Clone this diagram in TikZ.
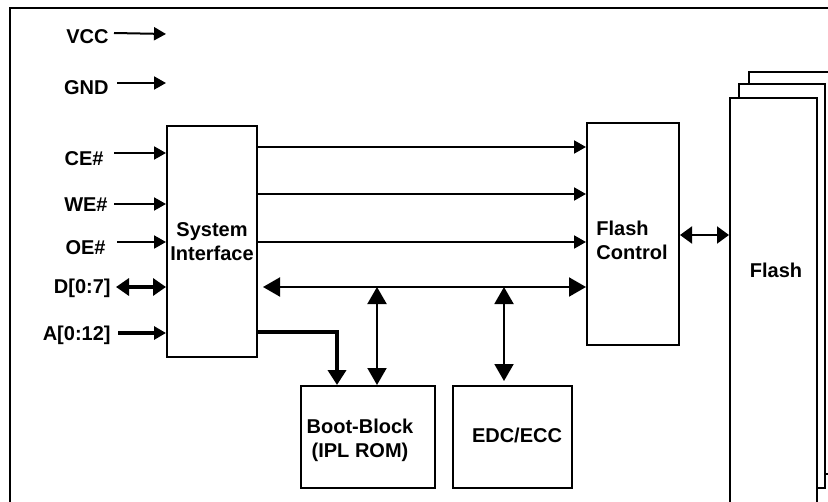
\documentclass[tikz,border=0pt]{standalone}
\usepackage{fontspec}
\setmainfont{Liberation Sans}
\usetikzlibrary{arrows.meta}
\begin{document}
\begin{tikzpicture}[x=0.5pt,y=-0.5pt,
  every node/.style={font=\fontsize{10}{12}\selectfont\bfseries, inner sep=0pt},
  box/.style={draw, line width=1pt, fill=white},
  lbl/.style={anchor=east},
  arr/.style={line width=1pt, -{Triangle[length=6pt,width=6.5pt]}},
  tharr/.style={line width=2pt, -{Triangle[length=6pt,width=6.5pt]}},
  thdbl/.style={line width=2pt, {Triangle[length=6.5pt,width=8.5pt]}-{Triangle[length=6.5pt,width=8.5pt]}},
  dbl/.style={line width=1pt, {Triangle[length=6pt,width=8.5pt]}-{Triangle[length=6pt,width=8.5pt]}},
  busarr/.style={line width=1pt, {Triangle[length=8.5pt,width=9.5pt]}-{Triangle[length=8.5pt,width=9.5pt]}},
  dnarr/.style={line width=2pt, -{Triangle[length=7.5pt,width=9pt]}}
]
\useasboundingbox (0,0) rectangle (828,502);
\clip (0,0) rectangle (828,502);
\fill[white] (0,0) rectangle (828,502);
% outer frame
\draw[line width=1pt] (10,8) rectangle (900,600);

% blocks
\node[box, minimum width=45pt, minimum height=115.5pt, align=center] (si) at (212,241.5) {System\\Interface};
\node[box, minimum width=46pt, minimum height=111pt] (fc) at (633,234) {};
\node[align=left] (fctext) at (632,240.5) {Flash\\Control};
\node[box, minimum width=67pt, minimum height=51pt] (boot) at (368,437) {};
\node[align=center] (boottext) at (360,440) {Boot-Block\\(IPL ROM)};
\node[box, minimum width=59.5pt, minimum height=51pt] (edc) at (512.5,437) {};
\node (edctext) at (517,435) {EDC/ECC};

% flash stack
\node[box, minimum width=48pt, minimum height=201pt] (flash3) at (797,273) {};
\node[box, minimum width=43pt, minimum height=202pt] (flash2) at (782,286) {};
\node[box, minimum width=43.5pt, minimum height=211pt] (flash1) at (773.5,309) {};
\node (flashtext) at (776,270) {Flash};

% left labels
\node[lbl] (vcc) at (109,37) {VCC};
\node[lbl] (gnd) at (109,88) {GND};
\node[lbl] (ce) at (104,159) {CE\#};
\node[lbl] (we) at (108,205) {WE\#};
\node[lbl] (oe) at (106,248) {OE\#};
\node[lbl] (d) at (111,288) {D[0:7]};
\node[lbl] (a) at (111,335) {A[0:12]};

% arrow start points
\coordinate (vccs) at (114,33);
\coordinate (vcce) at (166,34);
\coordinate (gnds) at (117,83);
\coordinate (gnde) at (166,83);
\coordinate (ces) at (114,153);
\coordinate (wes) at (114,204);
\coordinate (oes) at (117,242);
\coordinate (ds) at (116,287);
\coordinate (as) at (118,333);

\draw[arr] (vccs) -- (vcce);
\draw[arr] (gnds) -- (gnde);
\draw[arr] (ces) -- (si.west |- ces);
\draw[arr] (wes) -- (si.west |- wes);
\draw[arr] (oes) -- (si.west |- oes);
\draw[thdbl] (ds) -- (si.west |- ds);
\draw[tharr] (as) -- (si.west |- as);

% SI to Flash Control
\coordinate (l1) at (257,147);
\coordinate (l2) at (257,194);
\coordinate (l3) at (257,242);
\coordinate (bus) at (257,287);
\draw[arr] (si.east |- l1) -- (fc.west |- l1);
\draw[arr] (si.east |- l2) -- (fc.west |- l2);
\draw[arr] (si.east |- l3) -- (fc.west |- l3);
\draw[busarr, shorten <=2.5pt] (si.east |- bus) -- (fc.west |- bus);

% bus to boot block / EDC
\coordinate (v1) at (377,287);
\coordinate (v2) at (504,287);
\draw[busarr] (v1) -- (v1 |- boot.north);
\draw[busarr, shorten >=2pt] (v2) -- (v2 |- edc.north);

% address to boot block
\coordinate (bk) at (337,332);
\draw[dnarr] (si.east |- bk) -| (bk |- boot.north);

% flash control <-> flash
\coordinate (fy) at (680,235);
\draw[dbl] (fc.east |- fy) -- (flash1.west |- fy);
\end{tikzpicture}
\end{document}
